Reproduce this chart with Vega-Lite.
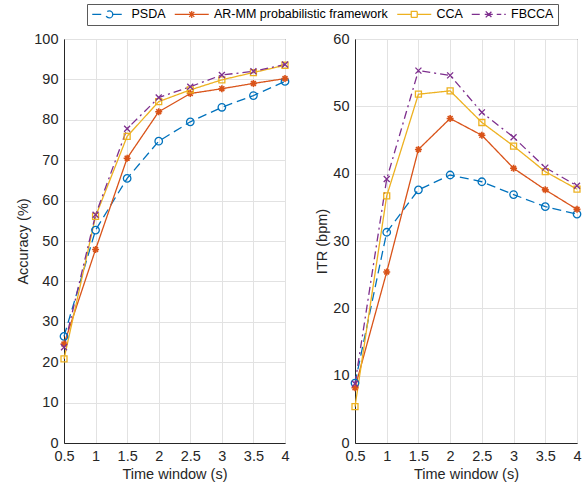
{
  "$schema": "https://vega.github.io/schema/vega-lite/v6.json",
  "autosize": {"type": "pad"},
  "padding": {"left": 15, "top": 3, "right": 5, "bottom": 5},
  "background": "white",
  "data": {"values": [
    {"t": 0.5, "method": "PSDA", "acc": 26.4, "itr": 8.9},
    {"t": 1, "method": "PSDA", "acc": 52.7, "itr": 31.3},
    {"t": 1.5, "method": "PSDA", "acc": 65.5, "itr": 37.6},
    {"t": 2, "method": "PSDA", "acc": 74.7, "itr": 39.8},
    {"t": 2.5, "method": "PSDA", "acc": 79.5, "itr": 38.8},
    {"t": 3, "method": "PSDA", "acc": 83.1, "itr": 36.9},
    {"t": 3.5, "method": "PSDA", "acc": 86.0, "itr": 35.1},
    {"t": 4, "method": "PSDA", "acc": 89.5, "itr": 34.0},
    {"t": 0.5, "method": "AR-MM probabilistic framework", "acc": 24.5, "itr": 8.2},
    {"t": 1, "method": "AR-MM probabilistic framework", "acc": 47.9, "itr": 25.4},
    {"t": 1.5, "method": "AR-MM probabilistic framework", "acc": 70.5, "itr": 43.6},
    {"t": 2, "method": "AR-MM probabilistic framework", "acc": 82.0, "itr": 48.2},
    {"t": 2.5, "method": "AR-MM probabilistic framework", "acc": 86.5, "itr": 45.7},
    {"t": 3, "method": "AR-MM probabilistic framework", "acc": 87.7, "itr": 40.8},
    {"t": 3.5, "method": "AR-MM probabilistic framework", "acc": 89.0, "itr": 37.6},
    {"t": 4, "method": "AR-MM probabilistic framework", "acc": 90.2, "itr": 34.7},
    {"t": 0.5, "method": "CCA", "acc": 20.8, "itr": 5.4},
    {"t": 1, "method": "CCA", "acc": 56.1, "itr": 36.7},
    {"t": 1.5, "method": "CCA", "acc": 75.9, "itr": 51.8},
    {"t": 2, "method": "CCA", "acc": 84.5, "itr": 52.3},
    {"t": 2.5, "method": "CCA", "acc": 87.4, "itr": 47.6},
    {"t": 3, "method": "CCA", "acc": 89.9, "itr": 44.1},
    {"t": 3.5, "method": "CCA", "acc": 91.7, "itr": 40.3},
    {"t": 4, "method": "CCA", "acc": 93.5, "itr": 37.7},
    {"t": 0.5, "method": "FBCCA", "acc": 23.7, "itr": 8.8},
    {"t": 1, "method": "FBCCA", "acc": 56.5, "itr": 39.2},
    {"t": 1.5, "method": "FBCCA", "acc": 77.8, "itr": 55.3},
    {"t": 2, "method": "FBCCA", "acc": 85.5, "itr": 54.6},
    {"t": 2.5, "method": "FBCCA", "acc": 88.2, "itr": 49.1},
    {"t": 3, "method": "FBCCA", "acc": 91.1, "itr": 45.4},
    {"t": 3.5, "method": "FBCCA", "acc": 92.0, "itr": 40.9},
    {"t": 4, "method": "FBCCA", "acc": 93.7, "itr": 38.2}
  ]},
  "spacing": 70,
  "bounds": "flush",
  "hconcat": [
    {
      "width": 221,
      "height": 404,
      "encoding": {
        "x": {"field": "t", "type": "quantitative", "scale": {"domain": [0.5, 4], "nice": false, "zero": false}, "axis": {"title": "Time window (s)", "values": [0.5, 1, 1.5, 2, 2.5, 3, 3.5, 4], "format": "~g"}},
        "y": {"field": "acc", "type": "quantitative", "scale": {"domain": [0, 100], "nice": false}, "axis": {"title": "Accuracy (%)", "values": [0, 10, 20, 30, 40, 50, 60, 70, 80, 90, 100]}}
      },
      "layer": [
        {
          "mark": {"type": "point", "filled": false, "opacity": 0, "strokeWidth": 1.3},
          "encoding": {
            "color": {"field": "method", "type": "nominal", "scale": {"domain": ["PSDA", "AR-MM probabilistic framework", "CCA", "FBCCA"], "range": ["#0072BD", "#D95319", "#EDB120", "#7E2F8E"]}, "legend": {"title": null, "orient": "none", "legendX": 23, "legendY": -35, "direction": "horizontal", "symbolOpacity": 1, "labelLimit": 0}},
            "shape": {"field": "method", "type": "nominal", "scale": {"domain": ["PSDA", "AR-MM probabilistic framework", "CCA", "FBCCA"], "range": [
              "M-1,0H1.7M3.1,0H5.8M3.1,0A0.7,0.7 0 1,1 1.7,0A0.7,0.7 0 1,1 3.1,0",
              "M-1,0H5.8M1.7,0H3.1M2.4,-0.7V0.7M1.9,-0.5L2.9,0.5M1.9,0.5L2.9,-0.5",
              "M-1,0H1.8M3,0H5.8M1.8,-0.6H3V0.6H1.8Z",
              "M-1,0H0.8M1.6,0H3.2M1.8,-0.6L3,0.6M1.8,0.6L3,-0.6M4,0H4.9M5.5,0H5.8"
            ]}, "legend": {"title": null, "orient": "none", "legendX": 23, "legendY": -35, "direction": "horizontal", "symbolOpacity": 1, "labelLimit": 0}}
          }
        },
        {
          "mark": {"type": "line", "strokeWidth": 1.3},
          "encoding": {
            "color": {"field": "method", "type": "nominal"},
            "strokeDash": {"field": "method", "type": "nominal", "scale": {"domain": ["PSDA", "AR-MM probabilistic framework", "CCA", "FBCCA"], "range": [[9, 5], [1, 0], [1, 0], [8, 4, 2, 4]]}, "legend": null}
          }
        },
        {
          "transform": [{"filter": "datum.method === 'PSDA'"}],
          "mark": {"type": "point", "shape": "circle", "size": 56, "filled": false, "strokeWidth": 1.3, "opacity": 1},
          "encoding": {"color": {"field": "method", "type": "nominal"}}
        },
        {
          "transform": [{"filter": "datum.method === 'AR-MM probabilistic framework'"}],
          "mark": {"type": "point", "shape": "M-1,0H1M0,-1V1M-0.7,-0.7L0.7,0.7M-0.7,0.7L0.7,-0.7", "size": 49, "filled": false, "strokeWidth": 1.6, "opacity": 1},
          "encoding": {"color": {"field": "method", "type": "nominal"}}
        },
        {
          "transform": [{"filter": "datum.method === 'CCA'"}],
          "mark": {"type": "point", "shape": "square", "size": 36, "filled": false, "strokeWidth": 1.3, "opacity": 1},
          "encoding": {"color": {"field": "method", "type": "nominal"}}
        },
        {
          "transform": [{"filter": "datum.method === 'FBCCA'"}],
          "mark": {"type": "point", "shape": "M-1,-1L1,1M-1,1L1,-1", "size": 36, "filled": false, "strokeWidth": 1.3, "opacity": 1},
          "encoding": {"color": {"field": "method", "type": "nominal"}}
        }
      ]
    },
    {
      "width": 222,
      "height": 404,
      "encoding": {
        "x": {"field": "t", "type": "quantitative", "scale": {"domain": [0.5, 4], "nice": false, "zero": false}, "axis": {"title": "Time window (s)", "values": [0.5, 1, 1.5, 2, 2.5, 3, 3.5, 4], "format": "~g"}},
        "y": {"field": "itr", "type": "quantitative", "scale": {"domain": [0, 60], "nice": false}, "axis": {"title": "ITR (bpm)", "values": [0, 10, 20, 30, 40, 50, 60]}}
      },
      "layer": [
        {
          "mark": {"type": "line", "strokeWidth": 1.3},
          "encoding": {
            "color": {"field": "method", "type": "nominal"},
            "strokeDash": {"field": "method", "type": "nominal", "legend": null}
          }
        },
        {
          "transform": [{"filter": "datum.method === 'PSDA'"}],
          "mark": {"type": "point", "shape": "circle", "size": 56, "filled": false, "strokeWidth": 1.3, "opacity": 1},
          "encoding": {"color": {"field": "method", "type": "nominal"}}
        },
        {
          "transform": [{"filter": "datum.method === 'AR-MM probabilistic framework'"}],
          "mark": {"type": "point", "shape": "M-1,0H1M0,-1V1M-0.7,-0.7L0.7,0.7M-0.7,0.7L0.7,-0.7", "size": 49, "filled": false, "strokeWidth": 1.6, "opacity": 1},
          "encoding": {"color": {"field": "method", "type": "nominal"}}
        },
        {
          "transform": [{"filter": "datum.method === 'CCA'"}],
          "mark": {"type": "point", "shape": "square", "size": 36, "filled": false, "strokeWidth": 1.3, "opacity": 1},
          "encoding": {"color": {"field": "method", "type": "nominal"}}
        },
        {
          "transform": [{"filter": "datum.method === 'FBCCA'"}],
          "mark": {"type": "point", "shape": "M-1,-1L1,1M-1,1L1,-1", "size": 36, "filled": false, "strokeWidth": 1.3, "opacity": 1},
          "encoding": {"color": {"field": "method", "type": "nominal"}}
        }
      ]
    }
  ],
  "config": {
    "font": "Liberation Sans",
    "view": {"stroke": "#262626", "strokeWidth": 1},
    "axis": {
      "domainColor": "#262626", "domainWidth": 1,
      "grid": true, "gridColor": "#e2e2e2", "gridWidth": 1,
      "ticks": false, "tickSize": 0, "labelFlush": false,
      "labelColor": "#262626", "labelFont": "Liberation Sans", "labelFontSize": 14.5, "labelPadding": 6,
      "titleColor": "#262626", "titleFont": "Liberation Sans", "titleFontSize": 14.5, "titleFontWeight": "normal"
    },
    "axisX": {"titlePadding": 4.5},
    "axisY": {"titlePadding": 3},
    "legend": {
      "strokeColor": "#5a5a5a", "fillColor": "white", "padding": 4,
      "labelFont": "Liberation Sans", "labelFontSize": 12.5, "labelColor": "#000000", "labelLimit": 0,
      "symbolSize": 100, "symbolStrokeWidth": 1.3, "symbolFillColor": "transparent",
      "labelOffset": 28, "columnPadding": 5.5
    }
  }
}
